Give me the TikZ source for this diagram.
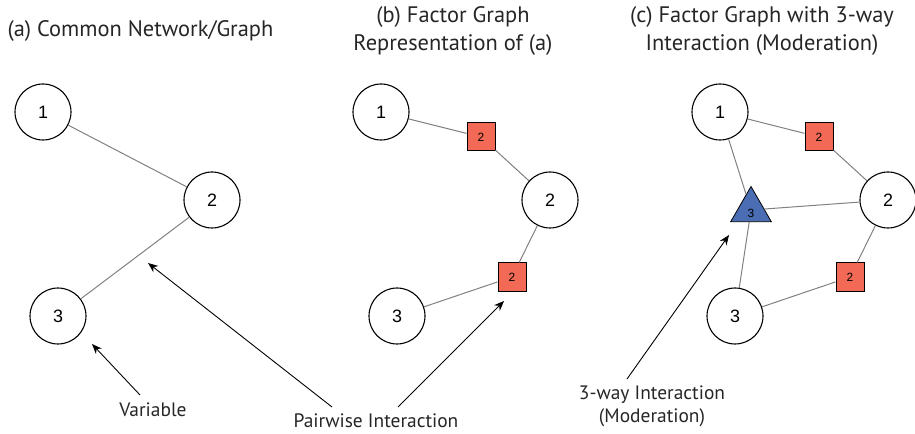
\documentclass[tikz,border=0pt]{standalone}
\usepackage{fontspec}
\setmainfont{PT Sans}
\newfontfamily\numfont{Liberation Sans}
\usetikzlibrary{shapes.geometric,arrows.meta}
\definecolor{fsq}{HTML}{F26A55}
\definecolor{ftri}{HTML}{4A6DB3}
\definecolor{edgegray}{HTML}{808080}
\begin{document}
\begin{tikzpicture}[x=1bp,y=-1bp,
  var/.style={circle,draw=black,line width=1.1pt,minimum size=56bp,inner sep=0pt,font=\numfont\fontsize{18}{18}\selectfont},
  fac/.style={rectangle,draw=black,line width=1pt,fill=fsq,minimum size=28bp,inner sep=0pt,font=\numfont\fontsize{12}{12}\selectfont},
  tri/.style={regular polygon,regular polygon sides=3,draw=black,line width=0.8pt,fill=ftri,minimum size=47bp,inner sep=0pt,font=\numfont\fontsize{12}{12}\selectfont},
  edge/.style={draw=edgegray,line width=1pt},
  ptr/.style={draw=black,line width=0.9pt,-{Stealth[length=10bp,width=8bp]}},
  ttl/.style={font=\fontsize{22.5}{28}\selectfont,align=center,text=black!85},
  lbl/.style={font=\fontsize{19.5}{23}\selectfont,align=center,text=black!85}]
\useasboundingbox (0,0) rectangle (915,434);
% titles
\node[ttl,anchor=west] (ta) at (4,31) {(a) Common Network/Graph};
\node[ttl] (tb) at (453,31) {(b) Factor Graph\\Representation of (a)};
\node[ttl] (tc) at (762,31) {(c) Factor Graph with 3-way\\Interaction (Moderation)};
% panel a
\node[var] (a1) at (43,112) {1};
\node[var] (a2) at (212,200) {2};
\node[var] (a3) at (58,316) {3};
\draw[edge] (a1) -- (a2);
\draw[edge] (a2) -- (a3);
% panel b
\node[var] (b1) at (381,112) {1};
\node[var] (b2) at (550,200) {2};
\node[var] (b3) at (397,316) {3};
\node[fac] (bf1) at (481,137) {2};
\node[fac] (bf2) at (512,277) {2};
\draw[edge] (b1) -- (bf1);
\draw[edge] (bf1) -- (b2);
\draw[edge] (b2) -- (bf2);
\draw[edge] (bf2) -- (b3);
% panel c
\node[var] (c1) at (720,112) {1};
\node[var] (c2) at (888,200) {2};
\node[var] (c3) at (735,316) {3};
\node[fac] (cf1) at (819,137) {2};
\node[fac] (cf2) at (850,277) {2};
\node[tri] (ct) at (751,210) {};
\node[font=\numfont\fontsize{12}{12}\selectfont] (ctl) at (751,213) {3};
\draw[edge] (c1) -- (cf1);
\draw[edge] (cf1) -- (c2);
\draw[edge] (c2) -- (cf2);
\draw[edge] (cf2) -- (c3);
\draw[edge] (c1) -- (ct);
\draw[edge] (c2) -- (ct);
\draw[edge] (c3) -- (ct);
% labels
\node[lbl] (lv) at (153,410) {Variable};
\node[lbl] (lp) at (376,421) {Pairwise Interaction};
\node[lbl] (lm) at (652,406) {3-way Interaction\\(Moderation)};
\coordinate (va) at (140,395);
\coordinate (vb) at (92,344);
\coordinate (pa1) at (332,407);
\coordinate (pb1) at (148,263);
\coordinate (pa2) at (398,407);
\coordinate (pb2) at (504,301);
\coordinate (ma) at (627,379);
\coordinate (mb) at (729,235);
\draw[ptr] (va) -- (vb);
\draw[ptr] (pa1) -- (pb1);
\draw[ptr] (pa2) -- (pb2);
\draw[ptr] (ma) -- (mb);
\end{tikzpicture}
\end{document}
